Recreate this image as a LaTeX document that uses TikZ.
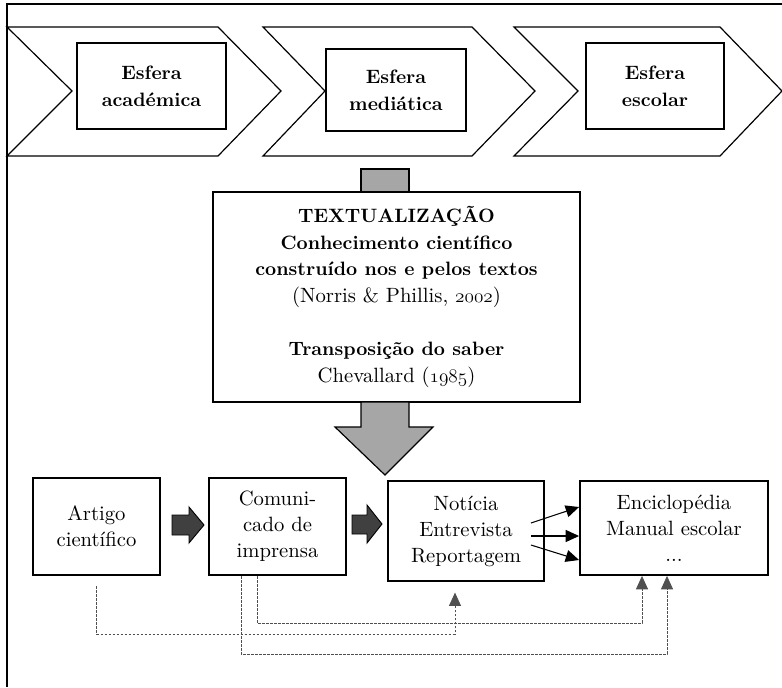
\documentclass[tikz,border=0pt]{standalone}
\usepackage{fontspec}
\setmainfont{lmroman10}[Extension=.otf,UprightFont=*-regular,BoldFont=*-bold,ItalicFont=*-italic,BoldItalicFont=*-bolditalic]
\usetikzlibrary{arrows.meta}
\definecolor{blockgray}{RGB}{166,166,166}
\definecolor{blockdark}{RGB}{64,64,64}
\definecolor{linkgray}{RGB}{80,80,80}
\newcommand{\osnum}[1]{{\fontencoding{OML}\fontfamily{cmm}\fontseries{m}\fontshape{it}\selectfont #1}}

\begin{document}
\begin{tikzpicture}[x=0.75pt,y=-0.75pt,>={Triangle[length=10pt,width=9pt]},semithick]
			\tikzstyle{chevron}=[draw=black,line width=0.9pt]
			\tikzstyle{sphere}=[draw=black,line width=1.4pt,align=center,inner sep=0pt,font=\fontsize{14.5}{20}\selectfont\bfseries]
			\tikzstyle{genre}=[draw=black,line width=1.4pt,align=center,inner sep=0pt,font=\fontsize{15.5}{19.5}\selectfont]
			\tikzstyle{graybox}=[draw=black,fill=blockgray,line width=0.9pt]
			\tikzstyle{darkbox}=[draw=black,fill=blockdark,line width=0.7pt]
			\tikzstyle{link}=[->,draw=linkgray,line width=0.6pt,dash pattern=on 2pt off 1pt]
			\useasboundingbox (0,0) rectangle (782,687);
			% frame
			\draw[line width=0.9pt] (782,4) -- (7,4) -- (7,687);
			% chevrons
			\draw[chevron] (7,27) -- (218,27) -- (281,91) -- (218,156) -- (7,156) -- (72,91) -- cycle;
			\draw[chevron] (263,27) -- (472,27) -- (535,91) -- (472,156) -- (263,156) -- (325,91) -- cycle;
			\draw[chevron] (514,27) -- (720,27) -- (782,91) -- (720,156) -- (514,156) -- (578,91) -- cycle;
			\node[sphere,minimum width=111.75pt,minimum height=64.5pt]  (esf1) at (151.5,86)  {Esfera\\acad\'emica};
			\node[sphere,minimum width=105pt,minimum height=61.5pt]     (esf2) at (396,90)    {Esfera\\medi\'atica};
			\node[sphere,minimum width=103.5pt,minimum height=64.5pt]   (esf3) at (655,86)    {Esfera\\escolar};
			% textualizacao
			\draw[graybox] (361,169) rectangle (409,192);
			\node[draw=black,line width=1.4pt,align=center,inner sep=0pt,minimum width=275.25pt,minimum height=157.5pt,
			      font=\fontsize{15.5}{20}\selectfont] (txt) at (396.5,297)
			      {{\fontsize{14.5}{20}\selectfont\bfseries TEXTUALIZAÇÃO}\\{\fontsize{14.5}{20}\selectfont\bfseries Conhecimento científico}\\
			       {\fontsize{14.5}{20}\selectfont\bfseries construído nos e pelos textos}\\
			       (Norris \& Phillis, \osnum{2002})\\[20pt]{\fontsize{14.5}{20}\selectfont\bfseries Transposição do saber}\\
			       Chevallard (\osnum{1985})};
			\draw[graybox] (361,402) -- (361,427) -- (335,427) -- (385,475) -- (433,427) -- (409,427) -- (409,402) -- cycle;
			% genres
			\node[genre,minimum width=95.25pt,minimum height=72.75pt]   (art)     at (96.5,526.5) {Artigo\\científico};
			\node[genre,minimum width=102.75pt,minimum height=72.75pt]  (com)     at (277.5,526.5) {Comuni-\\cado de\\imprensa};
			\node[genre,minimum width=117pt,minimum height=75pt]        (noticia) at (466,531)    {Notícia\\Entrevista\\Reportagem};
			\node[genre,minimum width=141pt,minimum height=70.5pt]      (enc)     at (674,528)    {Enciclopédia\\Manual escolar\\...};
			\draw[darkbox] (172,515) -- (189,515) -- (189,507) -- (204,525) -- (189,543) -- (189,535) -- (172,535) -- cycle;
			\draw[darkbox] (352,515) -- (367,515) -- (367,505) -- (382,524) -- (367,543) -- (367,534) -- (352,534) -- cycle;
			\draw[->,line width=0.8pt] ([shift={(-14,-8)}]noticia.east) -- ([shift={(0,-21)}]enc.west);
			\draw[->,line width=0.8pt] ([shift={(-14,5)}]noticia.east)  -- ([shift={(0,8)}]enc.west);
			\draw[->,line width=0.8pt] ([shift={(-14,14)}]noticia.east) -- ([shift={(0,32)}]enc.west);
			% dotted links
			\draw[link,shorten >=8pt] ([yshift=-7.5pt]art.south) -- ++(0,48) -| ([xshift=-8.25pt]noticia.south);
			\draw[link] ([xshift=-15.4pt]com.south) -- ++(0,47) -| ([xshift=-24pt]enc.south);
			\draw[link] ([xshift=-27.4pt]com.south) -- ++(0,78) -| ([xshift=-5.25pt]enc.south);
		\end{tikzpicture}
\end{document}
